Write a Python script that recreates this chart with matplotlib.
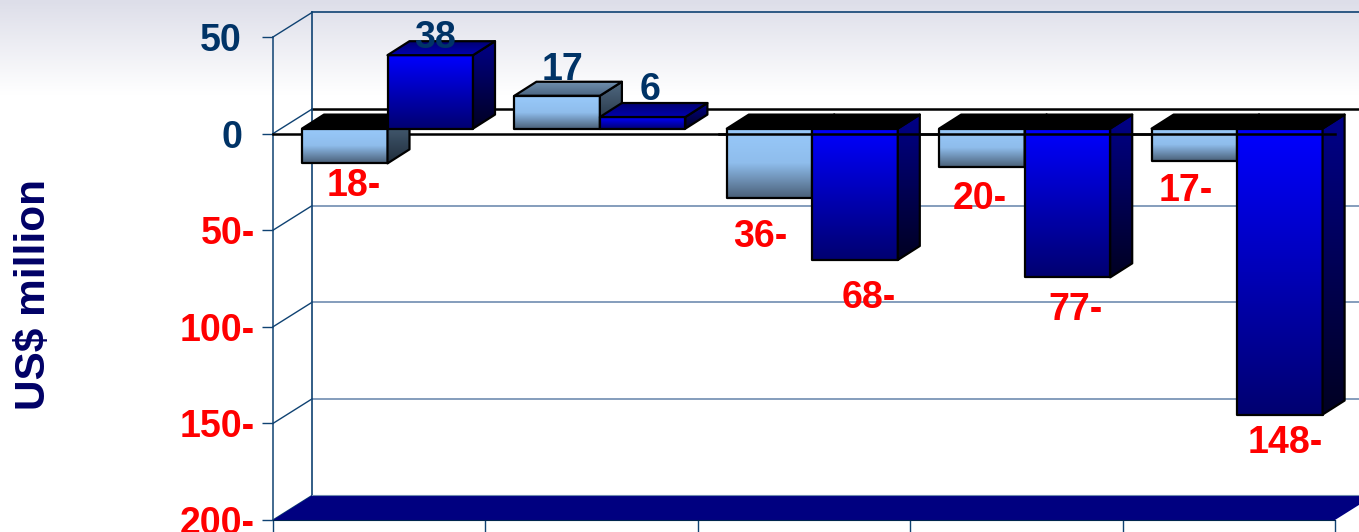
import numpy as np
import matplotlib
matplotlib.use("Agg")
import matplotlib.pyplot as plt
from matplotlib.colors import LinearSegmentedColormap
from matplotlib.patches import Polygon
from matplotlib.transforms import ScaledTranslation

light_values = [-18, 17, -36, -20, -17]
dark_values = [38, 6, -68, -77, -148]
light_labels = ["18-", "17", "36-", "20-", "17-"]
dark_labels = ["38", "6", "68-", "77-", "148-"]
y_ticks = [50, 0, -50, -100, -150, -200]
y_tick_labels = ["50", "0", "50-", "100-", "150-", "200-"]
x_ticks = [0, 1, 2, 3, 4, 5]

# label centres, in pixels of the picture
light_label_pos = [(354, 186), (562, 70), (760, 237), (980, 199), (1186, 191)]
dark_label_pos = [(435, 38), (650, 90), (869, 298), (1075, 310), (1285, 443)]

W, H = 1359, 532
CAT_PX = 212.4
AX_LEFT, AX_TOP, AX_BOTTOM = 273, 37, 520
PX_PER_UNIT = (AX_BOTTOM - AX_TOP) / 250.0
NAVY = "#003366"
GRID = "#6f8cb0"
AXIS = "#0f4272"
RED = "#ff0000"
LABEL_SIZE = 27

plt.rcParams['font.family'] = ['Liberation Sans', 'DejaVu Sans']

fig = plt.figure(figsize=(W / 100, H / 100), dpi=100, facecolor="white")


def hex_grad(*cols):
    return LinearSegmentedColormap.from_list("g", cols)


# page background, fades out towards white
bg = fig.add_axes([0, 1 - 95 / H, 1, 95 / H], zorder=0)
bg.imshow(np.linspace(0, 1, 100).reshape(-1, 1), aspect="auto",
          cmap=hex_grad("#dddee9", "#ffffff"), extent=(0, 1, 0, 1),
          origin="upper")
bg.axis("off")

ax = fig.add_axes([AX_LEFT / W, 1 - AX_BOTTOM / H, (W - AX_LEFT) / W,
                   (AX_BOTTOM - AX_TOP) / H], zorder=1)
ax.patch.set_alpha(0)

x_max = (W - AX_LEFT) / CAT_PX


def dx(px):
    return px / CAT_PX


def dy(px):
    return px / PX_PER_UNIT


def to_xy(px, py):
    return (px - AX_LEFT) / CAT_PX, 50 - (py - AX_TOP) / PX_PER_UNIT


def grad_poly(verts, cols, z):
    verts = np.array(verts)
    x0, x1 = verts[:, 0].min(), verts[:, 0].max()
    y0, y1 = verts[:, 1].min(), verts[:, 1].max()
    im = ax.imshow(np.linspace(0, 1, 128).reshape(-1, 1), aspect="auto",
                   cmap=hex_grad(*cols), extent=(x0, x1, y0, y1),
                   origin="upper", zorder=z, clip_on=True)
    edge = Polygon(verts, closed=True, facecolor="none", edgecolor="black",
                   linewidth=1.6, joinstyle="round", zorder=z + 0.01, clip_on=False)
    ax.add_patch(edge)
    clip = Polygon(verts, closed=True, transform=ax.transData)
    im.set_clip_path(clip)


def draw_bar(x_left, value, colors, z):
    width = dx(85.5)
    depth_x, depth_y = dx(22), dy(14)
    base = dy(5)
    top_val = base + max(value, 0)
    bot_val = base + min(value, 0)
    x_right = x_left + width
    # front, side and top of the box
    grad_poly([(x_left, bot_val), (x_right, bot_val), (x_right, top_val), (x_left, top_val)],
              colors["front"], z)
    grad_poly([(x_right, bot_val), (x_right + depth_x, bot_val + depth_y),
               (x_right + depth_x, top_val + depth_y), (x_right, top_val)],
              colors["side"], z + 0.1)
    if value < 0:
        top_cols = ("#000000", "#000000")
    else:
        top_cols = colors["top"]
    grad_poly([(x_left, top_val), (x_right, top_val),
               (x_right + depth_x, top_val + depth_y), (x_left + depth_x, top_val + depth_y)],
              top_cols, z + 0.2)


light_colors = {"front": ("#98c9fa", "#8fbdec", "#4a6078"), "side": ("#4f6880", "#1f2d3c"),
                "top": ("#6f8fae", "#4a6480")}
dark_colors = {"front": ("#0000ff", "#000070"), "side": ("#000088", "#000022"),
               "top": ("#000070", "#0000b0")}

# back wall and its grid
back_x, back_y = dx(39), dy(24.5)
for v in y_ticks:
    is_zero = v == 0
    ax.plot([0, back_x], [v, v + back_y], color=AXIS, lw=1.0, clip_on=False, zorder=2)
    if v == -200:
        continue
    ax.plot([back_x, x_max], [v + back_y, v + back_y], clip_on=False, zorder=2,
            color="black" if is_zero else (AXIS if v == 50 else GRID),
            lw=1.8 if is_zero else 1.2)
ax.plot([back_x, back_x], [-200 + back_y, 50 + back_y], color=AXIS, lw=1.2,
        clip_on=False, zorder=2)

# floor
ax.add_patch(Polygon([(0, -200), (back_x, -200 + back_y), (5 + back_x, -200 + back_y), (5, -200)],
                     closed=True, facecolor="#000080", edgecolor="none", zorder=2.5,
                     clip_on=False))
ax.plot([back_x, x_max], [-200 + back_y, -200 + back_y], color=GRID, lw=0.8, zorder=2.6)

# zero line of the front plane, behind the first bars
ax.plot([0, 5], [0, 0], color="black", lw=1.8, zorder=3, clip_on=False)

for i in range(len(dark_values)):
    x_left = i + dx(29)
    draw_bar(x_left, light_values[i], light_colors, 4 + i)
    draw_bar(x_left + dx(85.5), dark_values[i], dark_colors, 4.5 + i)

# from the third group on the line runs over the bars
ax.plot([2.1, 5], [0, 0], color="black", lw=1.8, zorder=12, clip_on=False)

for labels, values, positions in [(light_labels, light_values, light_label_pos),
                                  (dark_labels, dark_values, dark_label_pos)]:
    for lab, val, (px, py) in zip(labels, values, positions):
        x_t, y_t = to_xy(px, py)
        ax.text(x_t, y_t, lab, color=RED if val < 0 else NAVY, fontsize=LABEL_SIZE,
                fontweight="bold", ha="center", va="center", zorder=13, clip_on=False)

ax.set_xticks(x_ticks)
ax.set_xticklabels([])
ax.set_yticks(y_ticks)
ax.set_yticklabels(y_tick_labels, fontsize=LABEL_SIZE, fontweight="bold")
ax.tick_params(axis="y", length=8, width=1.0, color=AXIS, pad=5)
ax.tick_params(axis="x", length=9, width=1.0, color=AXIS)
for lab, v in zip(ax.get_yticklabels(), y_ticks):
    lab.set_color(RED if v < 0 else NAVY)
    if v >= 0:
        # positive labels leave room for the trailing minus
        lab.set_transform(lab.get_transform() + ScaledTranslation(-0.13, 0, fig.dpi_scale_trans))
ax.spines["top"].set_visible(False)
ax.spines["right"].set_visible(False)
ax.spines["left"].set_color(AXIS)
ax.spines["left"].set_linewidth(1.1)
ax.spines["bottom"].set_color("#00264d")
ax.spines["bottom"].set_bounds(0, 5)
ax.set_ylabel("US$ million", fontsize=30.5, fontweight="bold", color="#000066")
ax.yaxis.set_label_coords((54 - AX_LEFT) / (W - AX_LEFT), (AX_BOTTOM - 295) / (AX_BOTTOM - AX_TOP))

ax.set_xlim(0, x_max)
ax.set_ylim(-200, 50)
ax.set_aspect("auto")

fig.savefig("out.png", dpi=100)
